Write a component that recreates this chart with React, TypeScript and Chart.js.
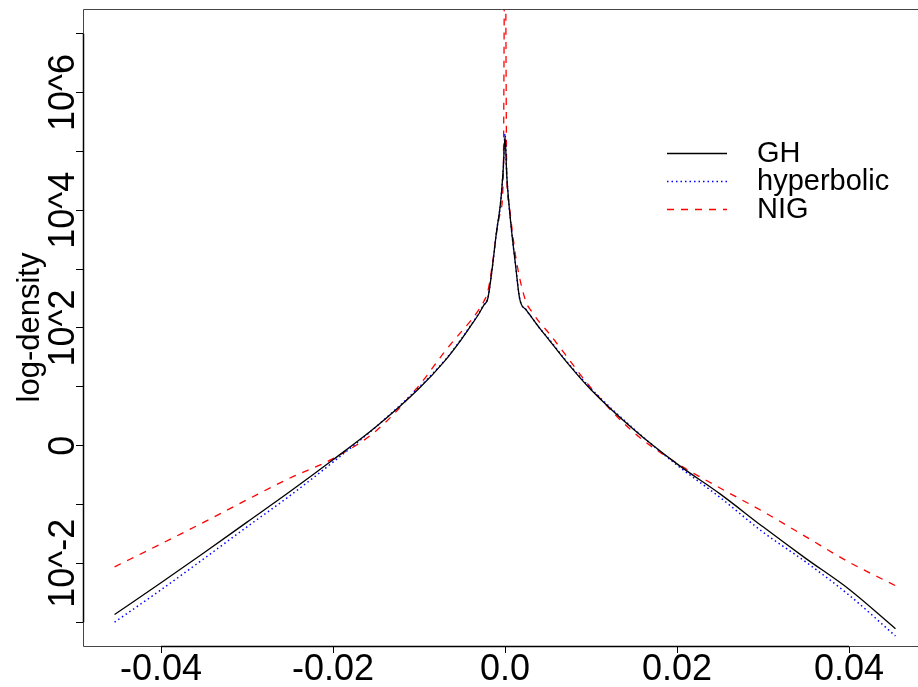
import React, { useEffect, useRef } from "react";
import { Chart, registerables } from "chart.js";

Chart.register(...registerables);

// ---- data (x = return, y = log10 density) ----
const xValues = [
  -0.0454, -0.04, -0.035, -0.03, -0.025, -0.02, -0.015, -0.01, -0.007, -0.005, -0.004, -0.003, -0.0025, -0.002, -0.0015, -0.001, -0.0005, -0.0002,
  0,
  0.0002, 0.0004, 0.0008, 0.0012, 0.0017, 0.0025, 0.003, 0.004, 0.005, 0.007, 0.01, 0.015, 0.02, 0.025, 0.03, 0.035, 0.04, 0.0454,
];
const ghLogDensity = [
  -2.87, -2.33, -1.82, -1.3, -0.78, -0.24, 0.32, 0.97, 1.44, 1.82, 2.03, 2.25, 2.38, 2.5, 3.0, 3.62, 4.15, 4.72,
  5.25,
  4.6, 4.2, 3.6, 3.1, 2.5, 2.3, 2.2, 2.0, 1.82, 1.45, 0.95, 0.27, -0.31, -0.82, -1.38, -1.92, -2.44, -3.11,
];
const hyperbolicLogDensity = [
  -3.0, -2.45, -1.92, -1.38, -0.85, -0.28, 0.32, 0.99, 1.45, 1.83, 2.04, 2.26, 2.39, 2.5, 3.0, 3.62, 4.15, 4.72,
  5.3,
  4.6, 4.2, 3.6, 3.1, 2.5, 2.3, 2.2, 2.0, 1.83, 1.46, 0.97, 0.28, -0.33, -0.88, -1.47, -1.98, -2.54, -3.235,
];
const nigLogDensity = [
  -2.06, -1.67, -1.3, -0.92, -0.55, -0.22, 0.25, 1.02, 1.6, 1.95, 2.12, 2.32, 2.44, 2.62, 3.05, 3.6, 4.0, 4.6,
  9.5,
  4.6, 4.17, 3.7, 3.25, 2.85, 2.42, 2.3, 2.1, 1.93, 1.55, 0.98, 0.22, -0.3, -0.72, -1.12, -1.55, -1.98, -2.38,
];
const seriesNames = ["GH", "hyperbolic", "NIG"];
const xTickValues = [-0.04, -0.02, 0, 0.02, 0.04];
const xTickLabels = ["-0.04", "-0.02", "0.0", "0.02", "0.04"];
const yTickValues = [-3, -2, -1, 0, 1, 2, 3, 4, 5, 6, 7];
const yTickLabels = ["", "10^-2", "", "0", "", "10^2", "", "10^4", "", "10^6", ""];
const yAxisTitle = "log-density";

const FONT = "'Liberation Sans', Arial, Helvetica, sans-serif";

const rPlotPlugin = {
  id: "rPlot",
  afterDraw(chart: any) {
    const { ctx, chartArea, scales } = chart;
    const xs = scales.x;
    const ys = scales.y;
    const W = chart.width;
    const L = Math.round(chartArea.left) + 0.5;
    const T = Math.round(chartArea.top) + 0.5;
    const B = Math.round(chartArea.bottom) + 0.5;
    ctx.save();
    // frame
    ctx.lineWidth = 1;
    ctx.strokeStyle = "#444";
    ctx.beginPath();
    ctx.moveTo(W + 2, T);
    ctx.lineTo(L, T);
    ctx.lineTo(L, B);
    ctx.lineTo(W + 2, B);
    ctx.stroke();
    // axis lines
    ctx.strokeStyle = "#000";
    ctx.lineWidth = 1.5;
    ctx.beginPath();
    ctx.moveTo(xs.getPixelForValue(xTickValues[0]), B);
    ctx.lineTo(xs.getPixelForValue(xTickValues[xTickValues.length - 1]), B);
    ctx.moveTo(L, ys.getPixelForValue(yTickValues[0]));
    ctx.lineTo(L, ys.getPixelForValue(yTickValues[yTickValues.length - 1]));
    ctx.stroke();
    // y tick labels (rotated)
    ctx.fillStyle = "#000";
    ctx.font = `36px ${FONT}`;
    ctx.textAlign = "center";
    ctx.textBaseline = "alphabetic";
    yTickValues.forEach((v, i) => {
      const lab = yTickLabels[i];
      if (!lab) return;
      const py = ys.getPixelForValue(v);
      ctx.save();
      ctx.translate(74, py);
      ctx.rotate(-Math.PI / 2);
      ctx.fillText(lab, 0, 0);
      ctx.restore();
    });
    // y title
    ctx.save();
    ctx.font = `31px ${FONT}`;
    ctx.textBaseline = "middle";
    ctx.translate(30, (chartArea.top + chartArea.bottom) / 2);
    ctx.rotate(-Math.PI / 2);
    ctx.fillText(yAxisTitle, 0, 0);
    ctx.restore();
    // legend
    chart.data.datasets.forEach((ds: any, i: number) => {
      const y = 152.7 + i * 28.3;
      ctx.save();
      ctx.strokeStyle = ds.borderColor;
      ctx.lineWidth = ds.borderWidth;
      ctx.setLineDash(ds.borderDash || []);
      ctx.beginPath();
      ctx.moveTo(667, Math.round(y) + 0.5);
      ctx.lineTo(727, Math.round(y) + 0.5);
      ctx.stroke();
      ctx.restore();
      ctx.font = `29px ${FONT}`;
      ctx.textAlign = "left";
      ctx.textBaseline = "middle";
      ctx.fillStyle = "#000";
      ctx.fillText(ds.label, 757, y + 1);
    });
    ctx.restore();
  },
};

export default function App() {
  const ref = useRef<HTMLCanvasElement | null>(null);
  useEffect(() => {
    document.body.style.margin = "0";
    const canvas = ref.current!;
    const mk = (ys: number[]) => xValues.map((x, i) => ({ x, y: ys[i] }));
    const chart = new Chart(canvas, {
      type: "line",
      data: {
        datasets: [
          {
            label: seriesNames[0],
            data: mk(ghLogDensity),
            borderColor: "#000000",
            borderWidth: 1.3,
            borderDash: [],
            pointRadius: 0,
            cubicInterpolationMode: "monotone",
          },
          {
            label: seriesNames[1],
            data: mk(hyperbolicLogDensity),
            borderColor: "#0000ff",
            borderWidth: 1.5,
            borderDash: [1.5, 3],
            pointRadius: 0,
            cubicInterpolationMode: "monotone",
          },
          {
            label: seriesNames[2],
            data: mk(nigLogDensity),
            borderColor: "#ff0000",
            borderWidth: 1.3,
            borderDash: [7, 7],
            pointRadius: 0,
            cubicInterpolationMode: "monotone",
          },
        ],
      },
      options: {
        animation: false,
        responsive: false,
        devicePixelRatio: 1,
        layout: { padding: { top: 9, left: 0, right: 0, bottom: 0 } },
        plugins: {
          legend: { display: false },
          tooltip: { enabled: false },
          title: { display: false },
        },
        scales: {
          x: {
            type: "linear",
            min: -0.04907,
            max: 0.04802,
            afterBuildTicks: (s: any) => {
              s.ticks = xTickValues.map((v) => ({ value: v }));
            },
            afterFit: (s: any) => {
              s.height = 41;
            },
            grid: { drawOnChartArea: false, drawTicks: true, tickLength: 7, tickColor: "#000", tickWidth: 1 },
            border: { display: false },
            ticks: {
              color: "#000",
              font: { family: FONT, size: 36, lineHeight: 1 },
              padding: -1,
              maxRotation: 0,
              autoSkip: false,
              callback: (_v: any, i: number) => xTickLabels[i],
            },
          },
          y: {
            type: "linear",
            min: -3.405,
            max: 7.42,
            afterBuildTicks: (s: any) => {
              s.ticks = yTickValues.map((v) => ({ value: v }));
            },
            afterFit: (s: any) => {
              s.width = 83;
            },
            grid: { drawOnChartArea: false, drawTicks: true, tickLength: 7, tickColor: "#000", tickWidth: 1 },
            border: { display: false },
            ticks: { display: false },
          },
        },
      } as any,
      plugins: [rPlotPlugin],
    });
    return () => chart.destroy();
  }, []);
  return <canvas ref={ref} width={918} height={687} style={{ display: "block" }} />;
}
